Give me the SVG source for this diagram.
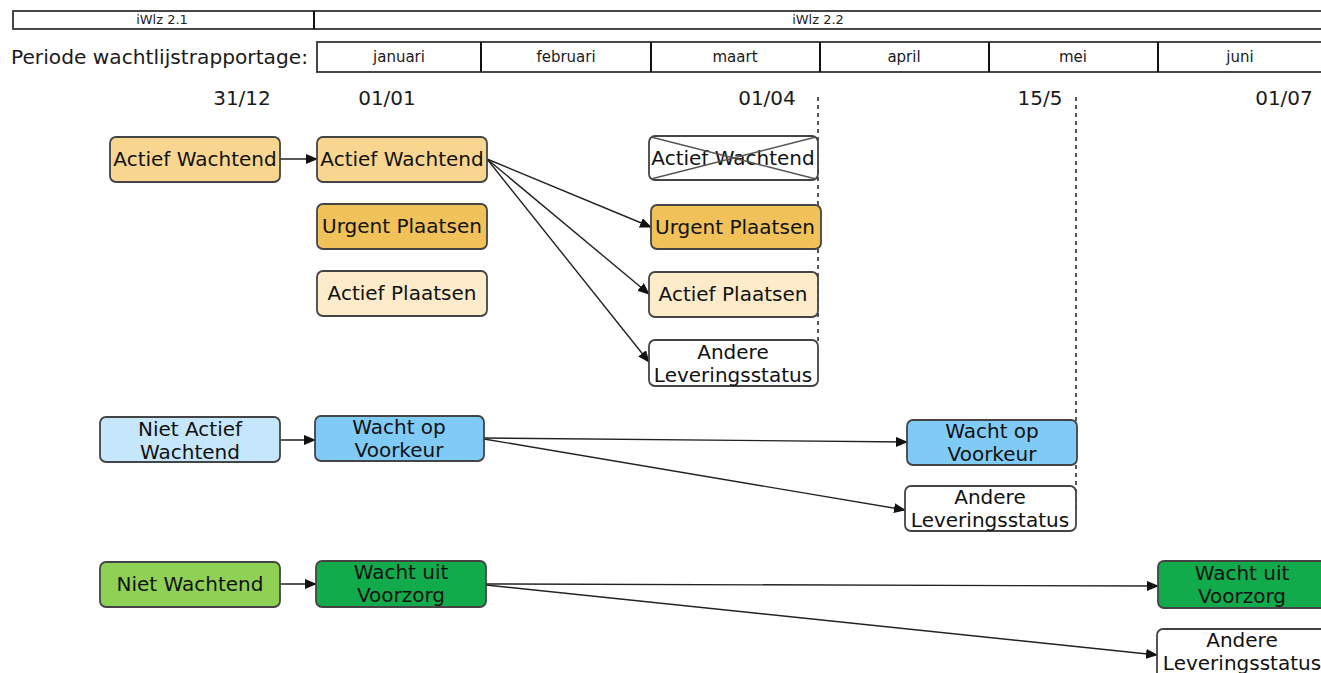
<svg xmlns="http://www.w3.org/2000/svg" width="1321" height="673" viewBox="0 0 1321 673">
<defs>
<marker id="ah" markerWidth="12" markerHeight="10" refX="11" refY="5" orient="auto" markerUnits="userSpaceOnUse">
<path d="M0,0 L12,5 L0,10 Z" fill="#111"/>
</marker>
<style>
.bar{fill:#fff;stroke:#333;stroke-width:1.8}
.sep{stroke:#111;stroke-width:2}
.hdr{font-family:"DejaVu Sans",sans-serif;font-size:13px;fill:#222;text-anchor:middle}
.mon{font-family:"DejaVu Sans",sans-serif;font-size:15px;fill:#1a1a1a;text-anchor:middle}
.lbl{font-family:"DejaVu Sans",sans-serif;font-size:19.5px;fill:#1a1a1a}
.date{font-family:"DejaVu Sans",sans-serif;font-size:20px;fill:#1a1a1a;text-anchor:middle}
.node rect{stroke:#444;stroke-width:1.8}
.node text{font-family:"DejaVu Sans",sans-serif;font-size:20px;fill:#111;text-anchor:middle}
.aw{fill:#F9D690}
.up{fill:#F2C25A}
.ap{fill:#FDEBC9}
.wh{fill:#fff}
.naw{fill:#C6E7FB}
.wov{fill:#80CBF6}
.nw{fill:#8FD154}
.wuv{fill:#12AB4C}
.dash{stroke:#444;stroke-width:1.8;stroke-dasharray:4,4;fill:none}
.conn line{stroke:#222;stroke-width:1.4;marker-end:url(#ah)}
</style>
</defs>
<rect width="1321" height="673" fill="#fff"/>

<g id="header">
<rect class="bar" x="13" y="11" width="1320" height="18"/>
<line class="sep" x1="314" y1="11" x2="314" y2="29"/>
<text class="hdr" x="162" y="24">iWlz 2.1</text>
<text class="hdr" x="818" y="24">iWlz 2.2</text>
<text class="lbl" x="11" y="64" textLength="297" lengthAdjust="spacingAndGlyphs">Periode wachtlijstrapportage:</text>
<rect class="bar" x="317" y="42" width="1016" height="30"/>
<line class="sep" x1="481" y1="42" x2="481" y2="72"/>
<line class="sep" x1="651" y1="42" x2="651" y2="72"/>
<line class="sep" x1="820" y1="42" x2="820" y2="72"/>
<line class="sep" x1="989" y1="42" x2="989" y2="72"/>
<line class="sep" x1="1158" y1="42" x2="1158" y2="72"/>
<text class="mon" x="399" y="62">januari</text>
<text class="mon" x="566" y="62">februari</text>
<text class="mon" x="735" y="62">maart</text>
<text class="mon" x="904" y="62">april</text>
<text class="mon" x="1073" y="62">mei</text>
<text class="mon" x="1240" y="62">juni</text>
<text class="date" x="242" y="105">31/12</text>
<text class="date" x="387" y="105">01/01</text>
<text class="date" x="767" y="105">01/04</text>
<text class="date" x="1040" y="105">15/5</text>
<text class="date" x="1284" y="105">01/07</text>
<line class="dash" x1="818" y1="97" x2="818" y2="345"/>
<line class="dash" x1="1076" y1="97" x2="1076" y2="510"/>
</g>

<g id="connectors" class="conn">
<line x1="280" y1="159" x2="317" y2="159"/>
<line x1="487" y1="159" x2="651" y2="227"/>
<line x1="487" y1="159" x2="649" y2="294"/>
<line x1="487" y1="159" x2="649" y2="362"/>
<line x1="280" y1="440" x2="315" y2="440"/>
<line x1="484" y1="438" x2="907" y2="442"/>
<line x1="484" y1="439" x2="905" y2="510"/>
<line x1="280" y1="584" x2="316" y2="584"/>
<line x1="486" y1="584" x2="1158" y2="586"/>
<line x1="486" y1="585" x2="1157" y2="655"/>
</g>

<g id="n-aw-1231" class="node"><rect class="aw" x="110" y="137" width="170" height="45" rx="6"/><text x="195" y="166">Actief Wachtend</text></g>
<g id="n-aw-0101" class="node"><rect class="aw" x="317" y="137" width="170" height="45" rx="6"/><text x="402" y="166">Actief Wachtend</text></g>
<g id="n-up-0101" class="node"><rect class="up" x="317" y="204" width="170" height="45" rx="6"/><text x="402" y="233">Urgent Plaatsen</text></g>
<g id="n-ap-0101" class="node"><rect class="ap" x="317" y="271" width="170" height="45" rx="6"/><text x="402" y="300">Actief Plaatsen</text></g>
<g id="n-aw-0104" class="node"><rect class="wh" x="649" y="136" width="169" height="44" rx="6"/><text x="733" y="165">Actief Wachtend</text><line x1="651" y1="137" x2="816" y2="179" stroke="#555" stroke-width="1.4"/><line x1="651" y1="179" x2="816" y2="137" stroke="#555" stroke-width="1.4"/></g>
<g id="n-up-0104" class="node"><rect class="up" x="651" y="205" width="170" height="44" rx="6"/><text x="735" y="234">Urgent Plaatsen</text></g>
<g id="n-ap-0104" class="node"><rect class="ap" x="649" y="272" width="169" height="45" rx="6"/><text x="733" y="301">Actief Plaatsen</text></g>
<g id="n-al-0104" class="node"><rect class="wh" x="649" y="340" width="169" height="46" rx="6"/><text x="733" y="359">Andere</text><text x="733" y="382">Leveringsstatus</text></g>

<g id="n-naw" class="node"><rect class="naw" x="100" y="417" width="180" height="45" rx="6"/><text x="190" y="436">Niet Actief</text><text x="190" y="459">Wachtend</text></g>
<g id="n-wov-0101" class="node"><rect class="wov" x="315" y="416" width="169" height="45" rx="6"/><text x="399" y="434">Wacht op</text><text x="399" y="457">Voorkeur</text></g>
<g id="n-wov-1505" class="node"><rect class="wov" x="907" y="420" width="170" height="45" rx="6"/><text x="992" y="438">Wacht op</text><text x="992" y="461">Voorkeur</text></g>
<g id="n-al-1505" class="node"><rect class="wh" x="905" y="486" width="171" height="45" rx="6"/><text x="990" y="504">Andere</text><text x="990" y="527">Leveringsstatus</text></g>

<g id="n-nw" class="node"><rect class="nw" x="100" y="562" width="180" height="45" rx="6"/><text x="190" y="591">Niet Wachtend</text></g>
<g id="n-wuv-0101" class="node"><rect class="wuv" x="316" y="561" width="170" height="46" rx="6"/><text x="401" y="579">Wacht uit</text><text x="401" y="602">Voorzorg</text></g>
<g id="n-wuv-0107" class="node"><rect class="wuv" x="1158" y="561" width="175" height="47" rx="6"/><text x="1242" y="580">Wacht uit</text><text x="1242" y="603">Voorzorg</text></g>
<g id="n-al-0107" class="node"><rect class="wh" x="1157" y="629" width="176" height="50" rx="6"/><text x="1242" y="647">Andere</text><text x="1242" y="670">Leveringsstatus</text></g>
</svg>
